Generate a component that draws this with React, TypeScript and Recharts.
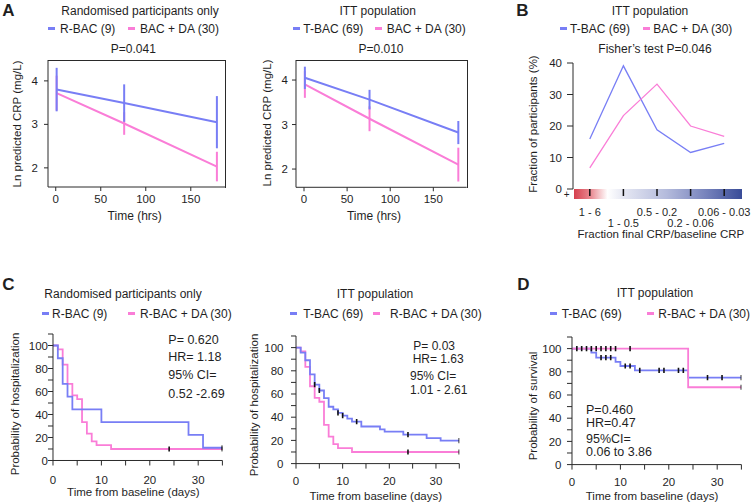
import React from 'react';
import { LineChart, Line, XAxis, YAxis, ErrorBar } from 'recharts';

const FONT = '"Liberation Sans", Arial, Helvetica, sans-serif';
const INK = '#1f1f1f';
const AXIS = '#2a2a2a';
const BLUE = '#787ef5';
const PINK = '#fa7dd7';

// ---- A: Ln predicted CRP over time (hrs) ----
const A_TIMES = [1, 76, 179];
const A1_RBAC = [3.8, 3.49, 3.05];
const A1_RBAC_ERR = [0.5, 0.43, 0.6];
const A1_DA = [3.72, 3.02, 2.03];
const A1_DA_ERR = [0.4, 0.26, 0.34];
const A2_TBAC = [4.05, 3.56, 2.82];
const A2_TBAC_ERR = [0.25, 0.22, 0.26];
const A2_DA = [3.9, 3.13, 2.1];
const A2_DA_ERR = [0.3, 0.28, 0.38];
const A_X_TICKS = [0, 50, 100, 150];
const A_Y_TICKS = [2, 3, 4];

// ---- B: distribution of final/baseline CRP fraction ----
const B_BINS = ['1 - 6', '1 - 0.5', '0.5 - 0.2', '0.2 - 0.06', '0.06 - 0.03'];
const B_TBAC = [15.9, 39.1, 18.8, 11.6, 14.5];
const B_DA = [6.7, 23.3, 33.3, 20.0, 16.7];
const B_Y_TICKS = [0, 10, 20, 30, 40];

// ---- C / D: Kaplan-Meier curves (days, %) ----
const KM_X_TICKS = [0, 5, 10, 15, 20, 25, 30, 35];
const KM_Y_TICKS = [0, 10, 20, 30, 40, 50, 60, 70, 80, 90, 100, 110];

const C1_RBAC_T = [0, 1, 2, 3, 4, 10, 28, 31, 35];
const C1_RBAC_S = [100, 88.9, 66.7, 55.6, 44.4, 33.3, 22.2, 11.1, 11.1];
const C1_RBAC_CENSOR = [35];

const C_DA_T = [0, 1, 2, 3, 4, 5, 6, 7, 8, 9, 12, 35];
const C_DA_S = [100, 96.7, 83.3, 66.7, 56.7, 53.3, 33.3, 23.3, 16.7, 13.3, 10, 10];
const C_DA_CENSOR = [24, 35];

const C2_TBAC_T = [0, 1, 2, 3, 4, 5, 6, 7, 8, 9, 10, 11, 12, 14, 18, 19, 23, 28, 31, 35];
const C2_TBAC_S = [100, 95.7, 89.1, 77, 68, 63, 56.5, 49, 46.8, 43.7, 41.4, 38.8, 36.2, 32, 29.5, 27.5, 25, 22, 19.8, 19.8];
const C2_TBAC_CENSOR = [4, 5, 9, 10, 13, 24, 35];

const D_TBAC_T = [0, 4, 5, 9, 10, 13, 24, 35];
const D_TBAC_S = [100, 96.5, 92.2, 88.5, 85, 81.2, 75, 75];
const D_TBAC_CENSOR = [6, 7, 8, 11, 12, 14, 18, 19, 22, 23, 28, 31, 35];
const D_DA_T = [0, 24, 35];
const D_DA_S = [100, 66.7, 66.7];
const D_DA_CENSOR = [1, 2, 3, 4, 5, 6, 7, 8, 9, 12, 35];

type Box = { x0: number; y0: number; x1: number; y1: number };

const PAD_T = 8;
const TICK = { fontSize: 11.5, fill: INK, fontFamily: FONT };

function frame(box: Box, yw: number, xh: number, padR = 6) {
  return {
    style: { position: 'absolute' as const, left: box.x0 - yw, top: box.y0 - PAD_T },
    width: box.x1 - box.x0 + yw + padR,
    height: box.y1 - box.y0 + PAD_T + xh,
    margin: { top: PAD_T, right: padR, bottom: 0, left: 0 },
  };
}

const Txt = ({ x, y, size = 12, anchor = 'middle', bold = false, rotate = false, children }: any) => {
  const tx = anchor === 'middle' ? '-50%' : anchor === 'end' ? '-100%' : '0';
  return (
    <div
      style={{
        position: 'absolute',
        left: x,
        top: y,
        fontSize: size,
        lineHeight: 1,
        fontWeight: bold ? 700 : 400,
        whiteSpace: 'nowrap',
        transform: `translate(${rotate ? '-50%' : tx}, -50%)${rotate ? ' rotate(-90deg)' : ''}`,
      }}
    >
      {children}
    </div>
  );
};

const Swatch = ({ x, y, color }: any) => (
  <div style={{ position: 'absolute', left: x, top: y - 1.5, width: 7, height: 3, background: color }} />
);

function LegendRow({ y, items }: any) {
  return (
    <>
      {items.map((it: any) => (
        <React.Fragment key={it.label}>
          <Swatch x={it.sx} y={y} color={it.color} />
          <Txt x={it.tx} y={y} anchor="start">{it.label}</Txt>
        </React.Fragment>
      ))}
    </>
  );
}

// ---------- A ----------
function CrpPanel({ box, xDomain, yDomain, blue, blueErr, pink, pinkErr, yTickMargin }: any) {
  const rows = A_TIMES.map((t, i) => ({ t, blue: blue[i], blueErr: blueErr[i], pink: pink[i], pinkErr: pinkErr[i] }));
  const f = frame(box, 40, 30);
  return (
    <>
      <div style={f.style}>
        <LineChart width={f.width} height={f.height} margin={f.margin} data={rows}>
          <XAxis type="number" dataKey="t" domain={xDomain} ticks={A_X_TICKS} allowDataOverflow interval={0} height={30}
            tickSize={4} tickMargin={4} stroke={AXIS} tick={TICK} />
          <YAxis type="number" domain={yDomain} ticks={A_Y_TICKS} allowDataOverflow interval={0} width={40}
            tickSize={4} tickMargin={yTickMargin} stroke={AXIS} tick={TICK} />
          <Line dataKey="pink" stroke={PINK} strokeWidth={2} dot={false} activeDot={false} isAnimationActive={false}>
            <ErrorBar dataKey="pinkErr" width={0} stroke={PINK} strokeWidth={2} direction="y" />
          </Line>
          <Line dataKey="blue" stroke={BLUE} strokeWidth={2} dot={false} activeDot={false} isAnimationActive={false}>
            <ErrorBar dataKey="blueErr" width={0} stroke={BLUE} strokeWidth={2} direction="y" />
          </Line>
        </LineChart>
      </div>
      <div style={{ position: 'absolute', left: box.x0, top: box.y0, width: box.x1 - box.x0 + 1, height: box.y1 - box.y0 + 1,
        borderTop: `1px solid ${AXIS}`, borderRight: `1px solid ${AXIS}`, boxSizing: 'border-box' }} />
    </>
  );
}

// ---------- B ----------
const BinTick = (p: any) => {
  const i = p.payload.value - 1;
  return (
    <text x={p.x} y={p.y + (i % 2 ? 30.5 : 19.5)} textAnchor="middle" {...TICK} fontSize={11}>
      {B_BINS[i]}
    </text>
  );
};

function FractionPanel({ box }: { box: Box }) {
  const rows = B_BINS.map((bin, i) => ({ i: i + 1, bin, blue: B_TBAC[i], pink: B_DA[i] }));
  const f = frame(box, 40, 48, 13);
  return (
    <>
      <div style={{ position: 'absolute', left: box.x0 + 0.5, top: box.y1 - 0.5, width: box.x1 - box.x0, height: 10,
        background: 'linear-gradient(to right, #d63f4d 0%, #e98a92 10%, #ffffff 20%, #e4e6f2 30%, #b4bbdc 55%, #7884bd 78%, #394c98 100%)' }} />
      <div style={f.style}>
        <LineChart width={f.width} height={f.height} margin={f.margin} data={rows}>
          <XAxis type="number" dataKey="i" domain={[0.5, 5.5]} ticks={[1, 2, 3, 4, 5]} allowDataOverflow interval={0} height={48}
            axisLine={false} tickLine={{ stroke: '#111', strokeWidth: 1.5 }} tickSize={7} tickMargin={0} tick={BinTick} />
          <YAxis type="number" domain={[0, 40]} ticks={B_Y_TICKS} allowDataOverflow interval={0} width={40}
            tickSize={6} tickMargin={5} stroke={AXIS} tick={TICK} />
          <Line dataKey="blue" stroke={BLUE} strokeWidth={1.3} dot={false} activeDot={false} isAnimationActive={false} />
          <Line dataKey="pink" stroke={PINK} strokeWidth={1.3} dot={false} activeDot={false} isAnimationActive={false} />
        </LineChart>
      </div>
    </>
  );
}

// ---------- C / D ----------
function stepAt(t: number[], s: number[], day: number) {
  let v = s[0];
  t.forEach((d, i) => {
    if (d <= day) v = s[i];
  });
  return v;
}

const CensorMark = (p: any) => {
  if (p.cx == null || p.cy == null) return <g key={p.key} />;
  return <line key={p.key} x1={p.cx} x2={p.cx} y1={p.cy - 2.6} y2={p.cy + 2.6} stroke="#111" strokeWidth={1.6} />;
};

const KmYTick = (p: any) => {
  const v = p.payload.value;
  if (v % 20 !== 0 || v > 100) return <g />;
  return <text x={p.x} y={p.y} dy="0.36em" textAnchor="end" {...TICK}>{v}</text>;
};

const KmXTick = (p: any) => {
  const v = p.payload.value;
  if (v % 10 !== 0) return <g />;
  return <text x={p.x} y={p.y} dy="0.72em" textAnchor="middle" {...TICK}>{v}</text>;
};

function KmPanel({ box, curves, ySize, yMargin, xMargin }: any) {
  const f = frame(box, 40, 36);
  return (
    <div style={f.style}>
      <LineChart width={f.width} height={f.height} margin={f.margin}>
        <XAxis type="number" dataKey="x" domain={[0, 35]} ticks={KM_X_TICKS} allowDataOverflow interval={0} height={36}
          tickSize={5} tickMargin={xMargin} stroke={AXIS} tick={KmXTick} />
        <YAxis type="number" domain={[0, 110]} ticks={KM_Y_TICKS} allowDataOverflow interval={0} width={40}
          tickSize={ySize} tickMargin={yMargin} stroke={AXIS} tick={KmYTick} />
        {curves.map((c: any) => (
          <Line key={c.name} data={c.t.map((x: number, i: number) => ({ x, v: c.s[i] }))} dataKey="v" type="stepAfter"
            stroke={c.color} strokeWidth={1.8} dot={false} activeDot={false} isAnimationActive={false} />
        ))}
        {curves.map((c: any) => (
          <Line key={c.name + '-censor'} data={c.censor.map((x: number) => ({ x, v: stepAt(c.t, c.s, x) }))} dataKey="v"
            stroke="none" dot={CensorMark} activeDot={false} isAnimationActive={false} />
        ))}
      </LineChart>
    </div>
  );
}

const A1_BOX: Box = { x0: 48, y0: 60, x1: 225, y1: 187 };
const A2_BOX: Box = { x0: 296, y0: 60, x1: 466.7, y1: 187.3 };
const B_BOX: Box = { x0: 573, y0: 63, x1: 741, y1: 189 };
const C1_BOX: Box = { x0: 53.3, y0: 333.5, x1: 222.7, y1: 460 };
const C2_BOX: Box = { x0: 296, y0: 335.7, x1: 459.3, y1: 463.3 };
const D_BOX: Box = { x0: 572.3, y0: 337.4, x1: 741.7, y1: 465 };

export default function App() {
  return (
    <div style={{ position: 'absolute', left: 0, top: 0, width: 755, height: 503, background: '#fff',
      fontFamily: FONT, color: INK, overflow: 'hidden' }}>
      {/* panel letters */}
      <Txt x={8.5} y={9.5} size={17} bold>A</Txt>
      <Txt x={522.5} y={9.5} size={17} bold>B</Txt>
      <Txt x={8.5} y={283.5} size={17} bold>C</Txt>
      <Txt x={523.5} y={283.5} size={17} bold>D</Txt>

      {/* A1 */}
      <Txt x={140} y={11}>Randomised participants only</Txt>
      <LegendRow y={28.7} items={[
        { sx: 48, tx: 60, color: BLUE, label: 'R-BAC (9)' },
        { sx: 128, tx: 140, color: PINK, label: 'BAC + DA (30)' },
      ]} />
      <Txt x={133.3} y={49}>P=0.041</Txt>
      <Txt x={18} y={124} size={11.5} rotate>Ln predicted CRP (mg/L)</Txt>
      <Txt x={134.7} y={216}>Time (hrs)</Txt>
      <CrpPanel box={A1_BOX} xDomain={[-8.6, 188]} yDomain={[1.56, 4.48]} yTickMargin={6}
        blue={A1_RBAC} blueErr={A1_RBAC_ERR} pink={A1_DA} pinkErr={A1_DA_ERR} />

      {/* A2 */}
      <Txt x={377.7} y={11}>ITT population</Txt>
      <LegendRow y={28.7} items={[
        { sx: 293, tx: 303.3, color: BLUE, label: 'T-BAC (69)' },
        { sx: 375, tx: 386.7, color: PINK, label: 'BAC + DA (30)' },
      ]} />
      <Txt x={381} y={49}>P=0.010</Txt>
      <Txt x={268} y={122.5} size={11.5} rotate>Ln predicted CRP (mg/L)</Txt>
      <Txt x={374} y={216}>Time (hrs)</Txt>
      <CrpPanel box={A2_BOX} xDomain={[-9.3, 188.7]} yDomain={[1.59, 4.45]} yTickMargin={4}
        blue={A2_TBAC} blueErr={A2_TBAC_ERR} pink={A2_DA} pinkErr={A2_DA_ERR} />

      {/* B */}
      <Txt x={650} y={11}>ITT population</Txt>
      <LegendRow y={28.7} items={[
        { sx: 560, tx: 570, color: BLUE, label: 'T-BAC (69)' },
        { sx: 643, tx: 653.3, color: PINK, label: 'BAC + DA (30)' },
      ]} />
      <Txt x={655} y={49}>Fisher’s test P=0.046</Txt>
      <Txt x={533.5} y={123.5} size={11.5} rotate>Fraction of participants (%)</Txt>
      <FractionPanel box={B_BOX} />
      <Txt x={566.7} y={195} size={10}>+</Txt>
      <Txt x={660.8} y={234.5} size={11.5}>Fraction final CRP/baseline CRP</Txt>

      {/* C1 */}
      <Txt x={123} y={294}>Randomised participants only</Txt>
      <LegendRow y={313.7} items={[
        { sx: 42, tx: 52, color: BLUE, label: 'R-BAC (9)' },
        { sx: 128, tx: 140, color: PINK, label: 'R-BAC + DA (30)' },
      ]} />
      <Txt x={15.8} y={404} size={11.5} rotate>Probability of hospitalization</Txt>
      <Txt x={133.3} y={493} size={11.5}>Time from baseline (days)</Txt>
      <KmPanel box={C1_BOX} ySize={5} yMargin={0} xMargin={10} curves={[
        { name: 'da', t: C_DA_T, s: C_DA_S, censor: C_DA_CENSOR, color: PINK },
        { name: 'rbac', t: C1_RBAC_T, s: C1_RBAC_S, censor: C1_RBAC_CENSOR, color: BLUE },
      ]} />
      <Txt x={168.3} y={339.5} size={12.5} anchor="start">P= 0.620</Txt>
      <Txt x={168.3} y={357} size={12.5} anchor="start">HR= 1.18</Txt>
      <Txt x={168.3} y={375.3} size={12.5} anchor="start">95% CI=</Txt>
      <Txt x={168.3} y={393.7} size={12.5} anchor="start">0.52 -2.69</Txt>

      {/* C2 */}
      <Txt x={375} y={294}>ITT population</Txt>
      <LegendRow y={313.7} items={[
        { sx: 290, tx: 303.3, color: BLUE, label: 'T-BAC (69)' },
        { sx: 373, tx: 390, color: PINK, label: 'R-BAC + DA (30)' },
      ]} />
      <Txt x={255} y={405} size={11.5} rotate>Probability of hospitalization</Txt>
      <Txt x={375.8} y={496.5} size={11.5}>Time from baseline (days)</Txt>
      <KmPanel box={C2_BOX} ySize={5} yMargin={7.5} xMargin={8} curves={[
        { name: 'da', t: C_DA_T, s: C_DA_S, censor: C_DA_CENSOR, color: PINK },
        { name: 'tbac', t: C2_TBAC_T, s: C2_TBAC_S, censor: C2_TBAC_CENSOR, color: BLUE },
      ]} />
      <Txt x={413.3} y={345.8} size={12} anchor="start">P= 0.03</Txt>
      <Txt x={412.7} y={358.6} size={12} anchor="start">HR= 1.63</Txt>
      <Txt x={410} y={375.5} size={12} anchor="start">95% CI=</Txt>
      <Txt x={410} y={390} size={12} anchor="start">1.01 - 2.61</Txt>

      {/* D */}
      <Txt x={655} y={292.7}>ITT population</Txt>
      <LegendRow y={313.7} items={[
        { sx: 550, tx: 561.7, color: BLUE, label: 'T-BAC (69)' },
        { sx: 647, tx: 658.3, color: PINK, label: 'R-BAC + DA (30)' },
      ]} />
      <Txt x={533.5} y={405.5} size={11.5} rotate>Probability of survival</Txt>
      <Txt x={652} y={496.5} size={11.5}>Time from baseline (days)</Txt>
      <KmPanel box={D_BOX} ySize={5} yMargin={5.5} xMargin={8.5} curves={[
        { name: 'tbac', t: D_TBAC_T, s: D_TBAC_S, censor: D_TBAC_CENSOR, color: BLUE },
        { name: 'da', t: D_DA_T, s: D_DA_S, censor: D_DA_CENSOR, color: PINK },
      ]} />
      <Txt x={586} y={409.8} size={12.5} anchor="start">P=0.460</Txt>
      <Txt x={586} y={422.8} size={12.5} anchor="start">HR=0.47</Txt>
      <Txt x={586} y={439.2} size={12.5} anchor="start">95%CI=</Txt>
      <Txt x={586} y={452} size={12.5} anchor="start">0.06 to 3.86</Txt>
    </div>
  );
}
